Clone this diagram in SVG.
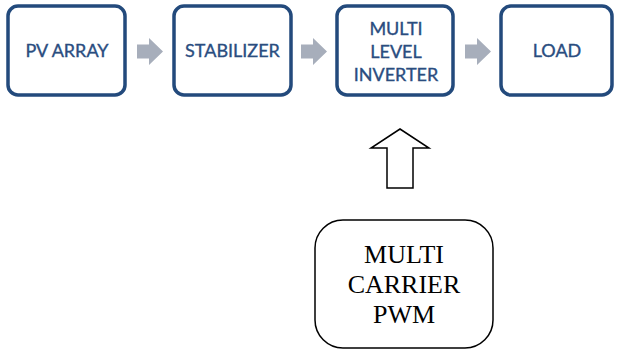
<svg xmlns="http://www.w3.org/2000/svg" xmlns:xlink="http://www.w3.org/1999/xlink" width="617" height="351" viewBox="0 0 617 351">
  <style>
    .blk { fill: #ffffff; stroke: #234a7c; stroke-width: 3.5; }
    .lbl { font-family: Lato, "Liberation Sans", Arial, sans-serif; font-size: 18px; fill: #2a4d7f; stroke: #2a4d7f; stroke-width: 0.35; text-anchor: middle; }
    .flow { fill: #a7aebb; }
    .ctl { fill: #ffffff; stroke: #000000; stroke-width: 1.5; }
    .ctltxt { font-family: "Liberation Serif", "Times New Roman", serif; font-size: 26px; fill: #000000; text-anchor: middle; }
  </style>
  <defs>
    <!-- block-style chevron arrow, 26 px long, centred on y=0 -->
    <path id="chev" d="M0,-7 H12 V-13.5 L26,0 L12,13.5 V7 H0 Z"/>
  </defs>

  <rect width="617" height="351" fill="#ffffff"/>

  <g id="connectors">
    <use xlink:href="#chev" class="flow" transform="translate(137,51.5)"/>
    <use xlink:href="#chev" class="flow" transform="translate(301,51.5)"/>
    <use xlink:href="#chev" class="flow" transform="translate(465,51.5)"/>
    <path class="ctl" d="M400,129 L429,148 H413 V188 H387 V148 H371 Z" stroke-linejoin="miter"/>
  </g>

  <g id="pv-array">
    <rect class="blk" x="8" y="6" width="117" height="89" rx="10"/>
    <text class="lbl" x="67" y="57">PV ARRAY</text>
  </g>

  <g id="stabilizer">
    <rect class="blk" x="174" y="6" width="117" height="89" rx="10"/>
    <text class="lbl" x="232.5" y="57">STABILIZER</text>
  </g>

  <g id="multilevel-inverter">
    <rect class="blk" x="337" y="6" width="116" height="89" rx="10"/>
    <text class="lbl" x="396" y="34.5">MULTI</text>
    <text class="lbl" x="396" y="57.5">LEVEL</text>
    <text class="lbl" x="396" y="80.5">INVERTER</text>
  </g>

  <g id="load">
    <rect class="blk" x="501" y="6" width="111" height="89" rx="10"/>
    <text class="lbl" x="557" y="57">LOAD</text>
  </g>

  <g id="multicarrier-pwm">
    <rect class="ctl" x="315" y="220" width="178" height="128" rx="28"/>
    <text class="ctltxt" x="404" y="263">MULTI</text>
    <text class="ctltxt" x="404" y="293">CARRIER</text>
    <text class="ctltxt" x="404" y="323">PWM</text>
  </g>
</svg>
